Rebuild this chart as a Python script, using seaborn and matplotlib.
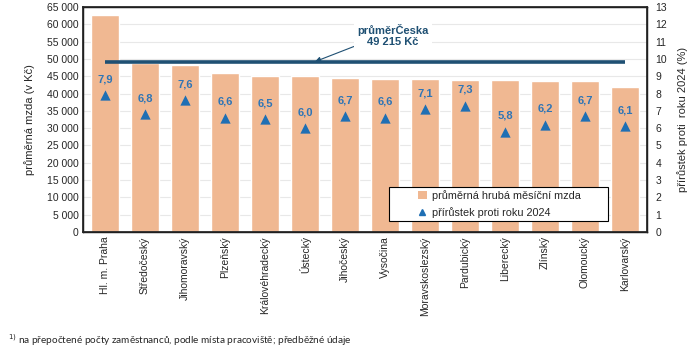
import numpy as np
import pandas as pd
import matplotlib
matplotlib.use("Agg")
import matplotlib.pyplot as plt
import seaborn as sns
from matplotlib.lines import Line2D
from matplotlib.patches import Patch, Rectangle

categories = ["Hl. m. Praha", "Středočeský", "Jihomoravský", "Plzeňský", "Královéhradecký",
              "Ústecký", "Jihočeský", "Vysočina", "Moravskoslezský", "Pardubický",
              "Liberecký", "Zlínský", "Olomoucký", "Karlovarský"]
wages = [62700, 48900, 48200, 46000, 45100, 45100, 44500, 44200, 44200, 43900,
         43900, 43600, 43600, 41900]
growth = [7.9, 6.8, 7.6, 6.6, 6.5, 6.0, 6.7, 6.6, 7.1, 7.3, 5.8, 6.2, 6.7, 6.1]
cz_average = 49215
left_ticks = list(range(0, 65001, 5000))
right_ticks = list(range(0, 14))

BAR = "#F0B892"
LINE = "#1F5073"
TRI = "#1F6FB4"
LBL = "#2E75B6"

sns.set_theme(style="white")
plt.rcParams["font.family"] = ["Liberation Sans", "DejaVu Sans"]

fig = plt.figure(figsize=(6.99, 3.53), dpi=100)
ax = fig.add_axes([83/699, 1-232/353, (647-83)/699, (232-7)/353])

df = pd.DataFrame({"kraj": categories, "mzda": wages})
sns.barplot(data=df, x="kraj", y="mzda", color=BAR, saturation=1, width=0.7, ax=ax, zorder=2)
ax.set_ylim(0, 65000)
ax.set_yticks(left_ticks)
ax.set_yticklabels([f"{v:,}".replace(",", " ") for v in left_ticks], fontsize=7.5)
ax.yaxis.grid(True, color="#E8E8E8", linewidth=0.8, zorder=0)
ax.set_axisbelow(True)
ax.set_xlim(-0.55, len(categories) - 0.45)
ax.set_xlabel("")
ax.set_ylabel("průměrná mzda (v Kč)", fontsize=8, labelpad=9)
ax.tick_params(axis="both", length=0, pad=3)
ax.set_xticks(range(len(categories)))
ax.set_xticklabels(categories, rotation=90, fontsize=7.5, va="top")
for s in ax.spines.values():
    s.set_color("black")
    s.set_linewidth(1.0)

ax.hlines(cz_average, 0, len(categories) - 1, color=LINE, linewidth=2.6, zorder=3)

ax2 = ax.twinx()
x = np.arange(len(categories))
sns.scatterplot(x=x, y=growth, marker="^", s=55, color=TRI, edgecolor=TRI, linewidth=0, ax=ax2, zorder=5, legend=False)
ax2.set_ylim(0, 13)
ax2.set_yticks(right_ticks)
ax2.set_yticklabels([str(v) for v in right_ticks], fontsize=7.5)
ax2.tick_params(axis="y", length=0, pad=6)
ax2.set_ylabel("přírůstek proti  roku 2024 (%)", fontsize=8, labelpad=7)
ax2.grid(False)
for xi, g in zip(x, growth):
    ax2.annotate(f"{g:.1f}".replace(".", ","), (xi, g), xytext=(0, 11.5), textcoords="offset points",
                 ha="center", va="center", fontsize=8, fontweight="bold", color=LBL)

ax2.annotate("průměrČeska\n49 215 Kč", xy=(5.25, cz_average / 65000 * 13),
             xytext=(7.2, 11.35), textcoords="data", ha="center", va="center",
             fontsize=8, fontweight="bold", color=LINE, linespacing=1.1,
             bbox=dict(boxstyle="square,pad=0.3", fc="white", ec="none"),
             arrowprops=dict(arrowstyle="-|>", color=LINE, lw=0.8, mutation_scale=8,
                             shrinkA=0, shrinkB=0, relpos=(0.1, 0.2)))

# legend frame (Excel-style wide box)
frame = Rectangle(((389-83)/564, (232-221)/225), (608-389)/564, (221-187)/225,
                  transform=ax2.transAxes, facecolor="white", edgecolor="black",
                  linewidth=0.8, zorder=9)
ax2.add_patch(frame)
handles = [Patch(facecolor=BAR, edgecolor="none"),
           Line2D([], [], marker="^", color=TRI, linestyle="none", markersize=4)]
leg = ax2.legend(handles, ["průměrná hrubá měsíční mzda", "přírůstek proti roku 2024"],
                 loc="center left", bbox_to_anchor=((418-83)/564, (232-204)/225), fontsize=7.8,
                 frameon=False, handlelength=0.8, handleheight=0.8, handletextpad=0.5,
                 borderpad=0.0, borderaxespad=0, labelspacing=0.55)
leg.set_zorder(10)

fig.text(8/699, 1-340/353, "$^{1)}$ na přepočtené počty zaměstnanců, podle místa pracoviště; předběžné údaje",
         fontsize=7.2, family=["Lato", "DejaVu Sans"], va="center", ha="left")

fig.savefig("out.png", dpi=100)
